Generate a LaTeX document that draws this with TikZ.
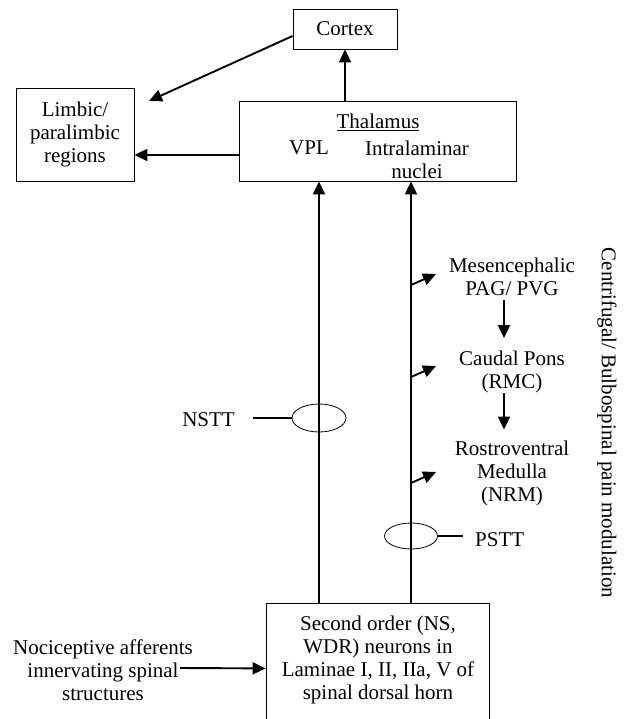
\documentclass[tikz,border=0pt]{standalone}
\usepackage{fontspec}
\setmainfont{Liberation Serif}
\usetikzlibrary{arrows.meta,shapes.geometric}
\begin{document}
\begin{tikzpicture}[x=1pt,y=-1pt,
  every node/.style={font=\fontsize{21}{23}\selectfont, align=center},
  box/.style={draw, line width=0.8pt, inner sep=0pt},
  txt/.style={inner sep=0pt},
  arr/.style={line width=1.9pt, -{Triangle[length=13pt,width=12pt]}},
  ring/.style={draw, ellipse, line width=0.8pt, inner sep=0pt},
  tick/.style={line width=1.9pt}]
\useasboundingbox (0,0) rectangle (625,719);
\fill[white] (0,0) rectangle (625,719);

% boxes
\node[box, minimum width=104pt, minimum height=40pt] (cortex) at (345,29) {Cortex};
\node[box, minimum width=118pt, minimum height=93pt] (limbic) at (75,134.5) {Limbic/\\paralimbic\\regions};
\node[box, minimum width=277pt, minimum height=80pt] (thal) at (377.5,141) {};
\node[txt] (thalname) at (378,122.5) {\underline{Thalamus}};
\node[txt] (vpl) at (309,148) {VPL};
\node[txt] (intra) at (417,159.5) {Intralaminar\\nuclei};
\node[box, minimum width=223pt, minimum height=130pt, anchor=north] (spinal) at (377.5,603) {};
\node[txt] (spinaltxt) at (378,659.5) {Second order (NS,\\WDR) neurons in\\Laminae I, II, IIa, V of\\spinal dorsal horn};
\node[txt] (noci) at (103,670) {Nociceptive afferents\\innervating spinal\\structures};

% descending modulation column
\node[txt] (mes) at (512,276.5) {Mesencephalic\\PAG/ PVG};
\node[txt] (caudal) at (512,372) {Caudal Pons\\(RMC)};
\node[txt] (rostro) at (512,473) {Rostroventral\\Medulla\\(NRM)};
\node[rotate=-90] (centri) at (607,423) {Centrifugal/ Bulbospinal pain modulation};

% tract labels and rings
\node[txt, anchor=east] (nstt) at (235,420) {NSTT};
\node[txt, anchor=west] (pstt) at (475,540) {PSTT};
\node[ring, minimum width=54pt, minimum height=28pt] (nring) at (319,418) {};
\node[ring, minimum width=53pt, minimum height=26pt] (pring) at (411,536) {};
\draw[tick, shorten >=18pt] (nring.west) -- (nring.west -| nstt.east);
\draw[tick, shorten >=12pt] (pring.east) -- (pring.east -| pstt.west);

% ascending tracts
\coordinate (vplx) at (319,0);
\coordinate (ilnx) at (411,0);
\draw[arr] (spinal.north -| vplx) -- (thal.south -| vplx);
\draw[arr] (spinal.north -| ilnx) -- (thal.south -| ilnx);

% thalamic projections
\draw[arr] (thal.north -| cortex.south) -- (cortex.south);
\draw[arr] ([yshift=-14pt]thal.west) -- ([yshift=-14pt]thal.west -| limbic.east);
\coordinate (limtip) at (149,101);
\draw[arr] ([yshift=-7pt]cortex.west) -- (limtip);

% afferent input
\coordinate (affstart) at (180,668);
\draw[arr] (affstart) -- (spinal.west);

% collaterals to brainstem
\coordinate (br1) at (411,285); \coordinate (tp1) at (436,274);
\coordinate (br2) at (411,377); \coordinate (tp2) at (436,366);
\coordinate (br3) at (411,483); \coordinate (tp3) at (436,472);
\draw[arr] (br1) -- (tp1);
\draw[arr] (br2) -- (tp2);
\draw[arr] (br3) -- (tp3);

% brainstem chain
\draw[arr, shorten <=4.7pt, shorten >=12.7pt] ([xshift=-8pt]mes.south) -- ([xshift=-8pt]caudal.north);
\draw[arr, shorten >=10.7pt] ([xshift=-8pt]caudal.south) -- ([xshift=-8pt]rostro.north);
\end{tikzpicture}
\end{document}
